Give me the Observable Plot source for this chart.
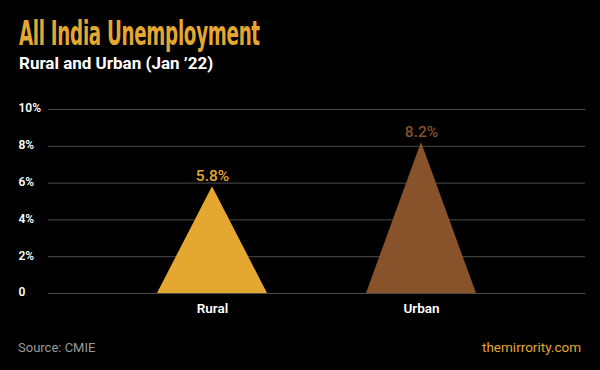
<!DOCTYPE html>
<html><head><meta charset="utf-8">
<script src="https://cdn.jsdelivr.net/npm/d3@7"></script>
<script src="https://cdn.jsdelivr.net/npm/@observablehq/plot@0.6"></script>
<style>
html,body{margin:0;padding:0;background:#000;}
#wrap{position:relative;width:600px;height:370px;background:#000;overflow:hidden;font-family:Roboto,sans-serif;}
.t{position:absolute;white-space:nowrap;line-height:1;}
#title{left:19px;top:16px;font-family:"DejaVu Sans Condensed","DejaVu Sans",sans-serif;font-weight:bold;font-size:34px;color:#E4A72F;transform-origin:0 0;letter-spacing:-0.5px;}
#subtitle{left:19px;top:54.5px;font-size:17px;font-weight:700;color:#fff;}
#source{left:18px;top:341px;font-size:13px;color:#9a9a9a;}
#site{right:19px;top:341px;font-size:13.5px;color:#E4A72F;}
#chart{position:absolute;left:0;top:90px;}
</style></head>
<body><div id="wrap">
<div class="t" id="title">All India Unemployment</div>
<div class="t" id="subtitle">Rural and Urban (Jan ’22)</div>
<div id="chart"></div>
<div class="t" id="source">Source: CMIE</div>
<div class="t" id="site">themirrority.com</div>
</div>
<script>
const categories = ["Rural", "Urban"];
const values = [5.8, 8.2];
const valueLabels = ["5.8%", "8.2%"];
const colors = ["#E4A72F", "#88522A"];
const yTicks = [0, 2, 4, 6, 8, 10];
const yTickLabels = ["0", "2%", "4%", "6%", "8%", "10%"];

const data = categories.map((c, i) => ({cat: c, value: values[i], label: valueLabels[i]}));

function triangles(index, scales, vals, dimensions, context, next) {
  const g = next(index, scales, vals, dimensions, context);
  for (const rect of Array.from(g.querySelectorAll("rect"))) {
    const x = +rect.getAttribute("x"), y = +rect.getAttribute("y");
    const w = +rect.getAttribute("width"), h = +rect.getAttribute("height");
    const p = document.createElementNS("http://www.w3.org/2000/svg", "path");
    p.setAttribute("d", `M${x},${y + h}L${x + w / 2},${y}L${x + w},${y + h}Z`);
    p.setAttribute("fill", rect.getAttribute("fill"));
    rect.replaceWith(p);
  }
  return g;
}

const chart = Plot.plot({
  width: 600,
  height: 240,
  marginTop: 19,
  marginBottom: 37,
  marginLeft: 48,
  marginRight: 15,
  style: {background: "transparent", color: "#fff", fontFamily: "Roboto, sans-serif"},
  x: {type: "band", domain: categories, paddingInner: 0.476, paddingOuter: 0.517, align: 0.5, label: null},
  y: {domain: [0, 10], label: null},
  color: {domain: categories, range: colors},
  marks: [
    Plot.ruleY(yTicks, {stroke: "#4d4d4d", strokeWidth: 1}),
    Plot.axisY(yTicks, {tickSize: 0, tickPadding: 30, textAnchor: "start", dy: -1,
      tickFormat: d => yTickLabels[yTicks.indexOf(d)], fill: "#fff", fontSize: 12, fontWeight: 600, label: null}),
    Plot.axisX({tickSize: 0, tickPadding: 10, fill: "#fff", fontSize: 13.5, fontWeight: 600, label: null}),
    Plot.barY(data, {x: "cat", y: "value", fill: "cat", render: triangles}),
    Plot.text(data, {x: "cat", y: "value", text: "label", fill: "cat", dy: -6, lineAnchor: "bottom", fontSize: 15.5, fontWeight: 500})
  ]
});
document.getElementById("chart").appendChild(chart);

const title = document.getElementById("title");
const w = title.offsetWidth;
title.style.transform = `scaleX(${241 / w})`;
</script>
</body></html>
